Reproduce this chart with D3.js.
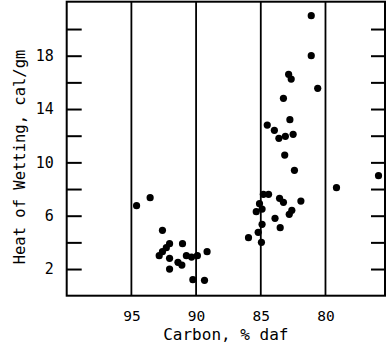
<!DOCTYPE html>
<html><head><meta charset="utf-8">
<script src="https://cdn.jsdelivr.net/npm/d3@7"></script>
<style>
html,body{margin:0;padding:0;background:#fff;}
svg{display:block;}
text{font-family:"DejaVu Sans Mono",monospace;fill:#000;}
</style></head>
<body>
<svg id="c" width="386" height="349"></svg>
<script>
const carbon = [81.1,81.1,82.85,82.65,80.6,83.25,82.75,84.5,83.95,83.6,83.1,82.5,83.15,82.4,
  84.8,84.4,83.55,83.25,81.9,85.1,84.9,85.35,82.6,82.8,83.9,84.9,83.5,85.2,85.95,84.95,
  79.15,75.9,
  94.6,93.55,92.6,92.85,92.6,92.3,92.05,91.05,92.05,91.4,91.1,92.05,90.75,90.35,89.9,89.15,90.25,89.35];
const heat = [21.0,18.0,16.6,16.25,15.55,14.8,13.2,12.8,12.4,11.8,11.95,12.1,10.55,9.4,
  7.6,7.6,7.3,7.0,7.1,6.9,6.5,6.3,6.4,6.1,5.8,5.35,5.1,4.75,4.35,4.0,
  8.1,9.0,
  6.75,7.35,4.9,3.0,3.3,3.6,3.9,3.9,2.8,2.5,2.3,2.0,3.0,2.9,3.0,3.3,1.2,1.15];
const xGrid = [95,90,85,80];
const yTicks = [2,4,6,8,10,12,14,16,18,20];
const yLabels = [2,6,10,14,18];
const xTitle = "Carbon, % daf";
const yTitle = "Heat of Wetting, cal/gm";

const L=66.7, R=385, T=1.7, B=295.7;
const svg = d3.select("#c");
const x = d3.scaleLinear().domain([100,75.4]).range([L,R]);
const y = d3.scaleLinear().domain([0,22.05]).range([B,T]);

// grid lines
svg.append("g").selectAll("line").data(xGrid).join("line")
  .attr("x1",d=>x(d)).attr("x2",d=>x(d)).attr("y1",T).attr("y2",B)
  .attr("stroke","#000").attr("stroke-width",1.8);

// left axis
const ga = svg.append("g").attr("transform",`translate(${L},0)`)
  .call(d3.axisLeft(y).tickValues(yTicks).tickSize(-15).tickPadding(13)
    .tickFormat(d=>yLabels.includes(d)?d:""));
ga.select(".domain").remove();
ga.selectAll("line").attr("stroke","#000").attr("stroke-width",2);
ga.selectAll("text").style("font-size","15px").attr("fill","#000");

// right axis
const gr = svg.append("g").attr("transform",`translate(${R},0)`)
  .call(d3.axisRight(y).tickValues(yTicks).tickSize(-14).tickFormat(""));
gr.select(".domain").remove();
gr.selectAll("line").attr("stroke","#000").attr("stroke-width",2);

// bottom axis labels
const gb = svg.append("g").attr("transform",`translate(0,${B})`)
  .call(d3.axisBottom(x).tickValues(xGrid).tickSize(0).tickPadding(15));
gb.select(".domain").remove();
gb.selectAll("text").style("font-size","14.5px").attr("fill","#000");

// frame
svg.append("rect").attr("x",L).attr("y",T).attr("width",R-L).attr("height",B-T)
  .attr("fill","none").attr("stroke","#000").attr("stroke-width",2);

// points
svg.append("g").selectAll("circle").data(carbon.map((c,i)=>[c,heat[i]])).join("circle")
  .attr("cx",d=>x(d[0])).attr("cy",d=>y(d[1])).attr("r",3.6).attr("fill","#000");

// titles
svg.append("text").attr("x",(L+R)/2).attr("y",340).attr("text-anchor","middle")
  .style("font-size","16px").text(xTitle);
svg.append("text").attr("transform","translate(25,157) rotate(-90)").attr("text-anchor","middle")
  .style("font-size","15.5px").text(yTitle);
</script>
</body></html>
